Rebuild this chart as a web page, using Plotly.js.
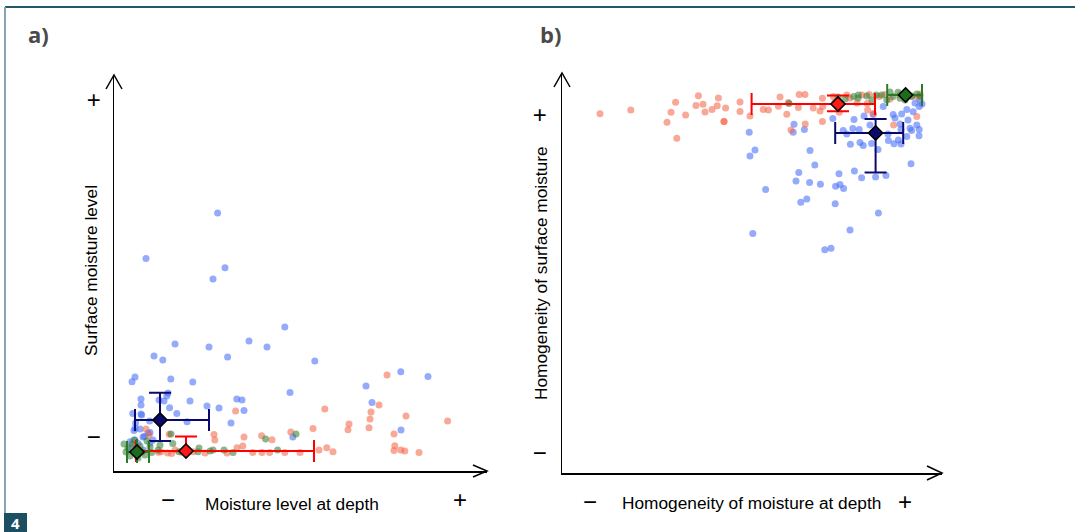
<!DOCTYPE html>
<html>
<head>
<meta charset="utf-8">
<script src="https://cdn.plot.ly/plotly-3.0.1.min.js"></script>
<style>
html,body{margin:0;padding:0;background:#fff;}
#chart{width:1075px;height:532px;}
</style>
</head>
<body>
<div id="chart"></div>
<script>
// ---------- Panel a: Moisture level at depth (x) vs Surface moisture level (y) ----------
const aBlueX = [25.9,8,27.75,24.75,42.7,15.25,10,12.2,23.75,28.4,33.75,38.25,50.2,71.7,78.5,5.25,4.5,14.2,19.7,63,44,64.5,6.75,6.75,13.5,13.2,11.25,12.5,19,30.7,32,23.25,26.25,13.9,6.75,32.5,8.9,5.4,18.25,29.25,5,6.5,8.5,71.75,44.7,5.25,7.25,9,4.7,6.9,9,7.6,5.25,15.7,9.75,4.4,6,7.3,4];
const aBlueY = [64.5,53.1,50.8,48,36,31.75,28.75,27.75,31,28.5,32.5,31,27.5,24.8,23.6,23.5,22.3,23,22.25,21.25,19.6,17.1,18,16.5,19.5,18.75,17.75,17.5,17.5,18,17.75,16.25,15.75,15.8,14.25,15.1,12.5,12,12.3,12,10.1,10.5,9.5,10.25,8.5,7.75,8.5,7,14.4,14,9.6,8.6,10.7,14.4,7.75,5.8,6.9,5.25,7.3];

const aRedX = [68.25,66.25,52.7,30.4,64.25,73,64,83.4,58.75,63.75,58.5,49.75,70,25,25.2,32.5,36.9,39.5,44.2,70.2,32.2,30.75,51.25,53.2,54.75,70,71.7,72.7,76.25,28.25,22.75,34.7,37,38.9,42.7,46.5,13.4,11.75,5.4,8,8.8,13.8,15.25,11.1,14.4,16.9,19.8,6.5];
const aRedY = [24,16.5,15.5,15,14.75,13.75,13,12.5,11.75,10.8,10.3,10.6,9.25,9.1,7.75,8.5,8.8,7.8,9.75,6.3,6.25,5.8,5.25,5.8,4.8,5.1,5.25,5,4.6,4.5,4.5,4.6,4.6,4.6,4.6,4.6,4.5,4.8,6.25,10.5,9,9.2,5.25,4.7,4.4,4.7,4.8,5.25];

const aGreenX = [37.9,45.5,14.25,21.25,24.75,27.5,29.75,40.9,16.25,11,9.4,14.7,24,21,3.5,4.5,6.5,7.75,4,6,9,3,7,5,8.25,11.5,2.5];
const aGreenY = [8,9.25,9.25,5.75,5.25,5.25,4.6,5.25,4.8,5.25,4.6,6.9,5,4.8,5.75,6.75,6.25,4,3.75,3.25,6,4.75,4.75,7.75,7.5,6.5,6.75];

// group means with asymmetric spreads: [blue, red, green]
const aMeanX      = [11.5, 18, 5.75];
const aMeanY      = [12.75, 5, 4.75];
const aErrXPlus   = [12.25, 32, 3];
const aErrXMinus  = [6.25, 12.5, 2.5];
const aErrYPlus   = [6.8, 3.6, 3.25];
const aErrYMinus  = [5.25, 0, 2.75];

// ---------- Panel b: Homogeneity of moisture at depth (x) vs Homogeneity of surface moisture (y) ----------
const bRedX = [9.5,17.2,28.4,27.25,26.25,30.9,28.7,33.5,34.1,35.25,35.75,37.5,39.1,38.8,40.5,40.5,40.9,44.5,44.5,47,50.3,51.6,54.1,56.2,56.6,59.3,60.75,60.8,57.25,62.8,64.5,65.1,65.1,67.8,69.3,71.2,76.8,76.4,77.8,82.9,88.7,80.75,89.5,85.75,79.3,72,75,84.5,87.5,89,82,68.25,73.75,54.5,59.1,65.2,76.3];
const bRedY = [89.8,90.75,92.7,90.2,87.7,89.5,83.7,91.9,94.3,92.2,90.25,90.9,93.75,91.8,87.9,87.9,91.25,92.75,90.4,89.25,90.9,90.75,91.7,89.7,92.6,94.6,94.6,87.25,85.75,91.25,90.5,87.9,93.7,94.1,90.2,94.5,94.6,90.75,89.9,87,89.1,94.6,94.75,93.8,94.1,93.75,94.5,94.5,94.25,94,93.5,92.75,92.5,94,91.4,91.6,92.4];

const bBlueX = [46.8,48.25,47,47.7,50.9,58,57.8,60.6,59.2,58.5,62,63.2,61.9,59.7,61.2,64.6,68.3,68.4,69.25,69.5,70.4,73.1,74.9,78.4,81,79.1,72,65.7,67.25,87.25,67.7,70.3,72.7,73,74.3,74.5,71.2,72.1,77.4,81.6,83,84.1,84.75,82.8,84.9,86.2,87.8,88.7,89.3,89.25,87,87.4,86.2,80.3,89.3,89.5,77.8,75.3,79,84.75,83.25,86.5,88.25,90,75.5,84.5,77,81.5];
const bBlueY = [85.2,80.75,79.25,59.9,70.9,87.2,85.2,85.9,75.1,73,80.6,77,72.6,67.7,68.5,72.2,67.3,71.7,74.8,72.1,71.1,75.5,73.8,74,74.4,65,60.75,55.8,56.2,77.3,88.6,85.6,86.1,88.4,85.9,82.6,84.75,82.2,82.4,83.1,82.3,83.25,85.9,89.6,89.75,90.9,90.3,87,85.9,84.3,86.2,85.6,84.1,91.6,91.6,93.25,89.6,81.9,80.9,82.25,88.75,88.25,92.5,92.25,89.25,87.25,87,84.75];

const bGreenX = [56.75,72.9,74,76.2,79.9,82.75,84,87.4,88.7,81.2,84.5,74.1,77.5,82,85.75,89.5,78.5,70.75,69];
const bGreenY = [92.4,94.1,93.75,94.25,94.5,94.1,95.2,94.1,94.75,93.25,93.7,94.5,93.25,95.25,93.25,94.25,94.5,93.5,94];

const bMeanX      = [78.4, 69, 85.9];
const bMeanY      = [85, 92.25, 94.5];
const bErrXPlus   = [6.9, 9.25, 4.1];
const bErrXMinus  = [10.1, 21.6, 4.6];
const bErrYPlus   = [3.5, 2.1, 1];
const bErrYMinus  = [9.9, 1.8, 1];

// tick labels
const aXTickVals = [13.5, 86.5];
const aYTickVals = [8.5, 92.75];
const bXTickVals = [7, 85.75];
const bYTickVals = [5, 89.5];
const tickText = ['\u2212', '+'];

// ---------- styling ----------
const W = 1075, H = 532;
const FONT = 'Liberation Sans, Arial, Helvetica, sans-serif';
const C_BLUE = 'rgb(70,110,250)', C_RED = 'rgb(245,105,75)', C_GREEN = 'rgb(53,130,53)';
const MEAN_FILL = ['#0a0a6e', '#ff1a1a', '#1d6b1d'];
const ERR_COL = ['#0a0a6e', '#ff0000', '#2a7a2a'];
const CAP_X = [11, 11, 11];
const CAP_Y = [11, 11, 0];

function dots(x, y, color, xa, ya) {
  return {x, y, type: 'scatter', mode: 'markers', xaxis: xa, yaxis: ya, hoverinfo: 'skip',
    marker: {size: 7, color, opacity: 0.58, line: {width: 0}}};
}
function mean(i, mx, my, xp, xm, yp, ym, xa, ya) {
  return {x: [mx[i]], y: [my[i]], type: 'scatter', mode: 'markers', xaxis: xa, yaxis: ya, hoverinfo: 'skip',
    marker: {symbol: 'diamond', size: 11, color: MEAN_FILL[i], line: {color: '#000', width: 1.5}},
    error_x: {type: 'data', symmetric: false, array: [xp[i]], arrayminus: [xm[i]], color: ERR_COL[i], thickness: 2, width: CAP_X[i]},
    error_y: {type: 'data', symmetric: false, array: [yp[i]], arrayminus: [ym[i]], color: ERR_COL[i], thickness: 2, width: CAP_Y[i]}};
}

const traces = [
  dots(aBlueX, aBlueY, C_BLUE, 'x', 'y'),
  dots(aRedX, aRedY, C_RED, 'x', 'y'),
  dots(aGreenX, aGreenY, C_GREEN, 'x', 'y'),
  dots(bBlueX, bBlueY, C_BLUE, 'x2', 'y2'),
  dots(bRedX, bRedY, C_RED, 'x2', 'y2'),
  dots(bGreenX, bGreenY, C_GREEN, 'x2', 'y2')
];
for (let i = 0; i < 3; i++) traces.push(mean(i, aMeanX, aMeanY, aErrXPlus, aErrXMinus, aErrYPlus, aErrYMinus, 'x', 'y'));
for (let i = 0; i < 3; i++) traces.push(mean(i, bMeanX, bMeanY, bErrXPlus, bErrXMinus, bErrYPlus, bErrYMinus, 'x2', 'y2'));

const px = v => v / W, py = v => 1 - v / H;
function axisBase(extra) {
  return Object.assign({showgrid: false, zeroline: false, showline: true, linecolor: '#000', linewidth: 1.5,
    ticks: 'outside', tickcolor: 'rgba(0,0,0,0)', ticklen: 7, tickmode: 'array', ticktext: tickText,
    tickfont: {family: FONT, size: 24, color: '#000'}, fixedrange: true}, extra);
}
function pathOf(pts) {
  return pts.map((p, k) => (k ? 'L' : 'M') + px(p[0]) + ',' + py(p[1])).join(' ');
}
const arrowLine = {color: '#000', width: 1.5};
const shapes = [
  {type: 'path', xref: 'paper', yref: 'paper', path: pathOf([[473,465],[487,471],[473,477]]), line: arrowLine},
  {type: 'path', xref: 'paper', yref: 'paper', path: pathOf([[106,89],[114,75],[122,89]]), line: arrowLine},
  {type: 'path', xref: 'paper', yref: 'paper', path: pathOf([[554,87],[562,73],[570,87]]), line: arrowLine},
  {type: 'path', xref: 'paper', yref: 'paper', path: pathOf([[927,466],[942,473],[927,480]]), line: arrowLine},
  // frame
  {type: 'line', xref: 'paper', yref: 'paper', x0: px(5), x1: px(1075), y0: py(7), y1: py(7), line: {color: '#24566a', width: 2}},
  {type: 'line', xref: 'paper', yref: 'paper', x0: px(5), x1: px(5), y0: py(7), y1: py(514), line: {color: '#86a5b1', width: 2}},
  {type: 'rect', xref: 'paper', yref: 'paper', x0: px(4), x1: px(27), y0: py(513), y1: py(532), fillcolor: '#1d4f63', line: {width: 0}}
];
function ann(text, x, y, size, extra) {
  return Object.assign({text, x: px(x), y: py(y), xref: 'paper', yref: 'paper', showarrow: false,
    xanchor: 'center', yanchor: 'middle', font: {family: FONT, size, color: '#000'}}, extra || {});
}
const annotations = [
  ann('<b>a)</b>', 38, 34, 22, {font: {family: 'Open Sans, Liberation Sans, sans-serif', size: 22, color: '#4a4a4a'}}),
  ann('<b>b)</b>', 550, 34, 22, {font: {family: 'Open Sans, Liberation Sans, sans-serif', size: 22, color: '#4a4a4a'}}),
  ann('Moisture level at depth', 292, 504, 17.3),
  ann('Homogeneity of moisture at depth', 751, 503, 17.3),
  ann('Surface moisture level', 91, 271, 17.3, {textangle: -90}),
  ann('Homogeneity of surface moisture', 541, 273, 17.3, {textangle: -90}),
  ann('<b>4</b>', 15.5, 523, 15, {font: {family: 'Open Sans, Liberation Sans, sans-serif', size: 15, color: '#fff'}})
];

const layout = {
  width: W, height: H, margin: {l: 0, r: 0, t: 0, b: 0, pad: 0},
  paper_bgcolor: '#fff', plot_bgcolor: 'rgba(0,0,0,0)', showlegend: false,
  xaxis: axisBase({domain: [px(114), px(487)], range: [0, 93.25], tickvals: aXTickVals, anchor: 'y'}),
  yaxis: axisBase({domain: [py(471), py(75)], range: [0, 99], tickvals: aYTickVals, anchor: 'x'}),
  xaxis2: axisBase({domain: [px(562), px(942)], range: [0, 95], tickvals: bXTickVals, anchor: 'y2'}),
  yaxis2: axisBase({domain: [py(473), py(73)], range: [0, 100], tickvals: bYTickVals, anchor: 'x2', ticklen: 9}),
  shapes, annotations
};
Plotly.newPlot('chart', traces, layout, {displayModeBar: false, staticPlot: true});
</script>
</body>
</html>
